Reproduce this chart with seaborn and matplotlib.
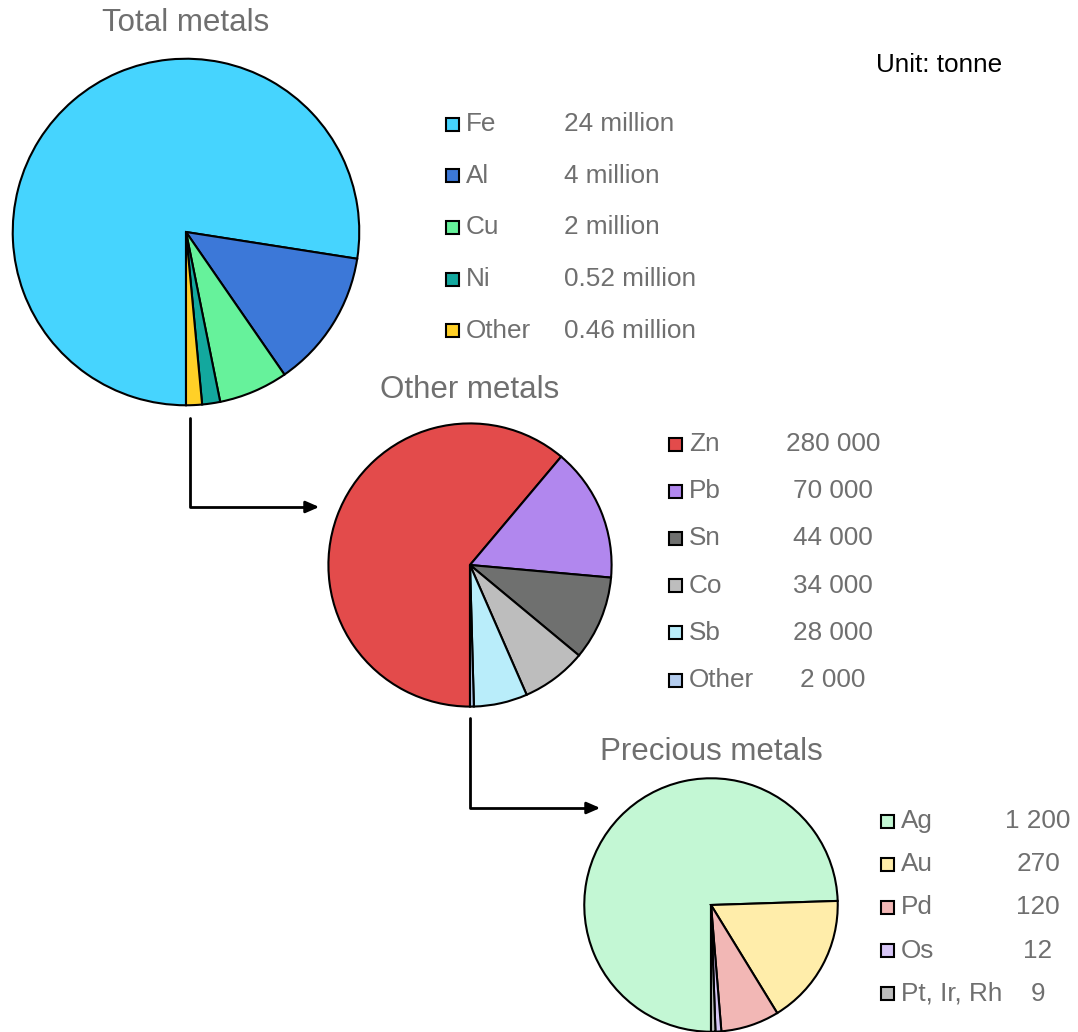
import matplotlib
matplotlib.use("Agg")
import matplotlib.pyplot as plt
import seaborn as sns
from matplotlib.patches import Rectangle

sns.set_style("white")
plt.rcParams["font.family"] = ["Liberation Sans", "DejaVu Sans"]

# data
total_labels = ["Fe", "Al", "Cu", "Ni", "Other"]
total_values = [24_000_000, 4_000_000, 2_000_000, 520_000, 460_000]
total_text = ["24 million", "4 million", "2 million", "0.52 million", "0.46 million"]
total_colors = ["#46D4FE", "#3C78D8", "#66F29B", "#13A89E", "#FFD027"]

other_labels = ["Zn", "Pb", "Sn", "Co", "Sb", "Other"]
other_values = [280_000, 70_000, 44_000, 34_000, 28_000, 2_000]
other_text = ["280 000", "70 000", "44 000", "34 000", "28 000", "2 000"]
other_colors = ["#E34B4B", "#B187EE", "#6F706F", "#BDBDBD", "#B9EDFA", "#B4CCEE"]

prec_labels = ["Ag", "Au", "Pd", "Os", "Pt, Ir, Rh"]
prec_values = [1200, 270, 120, 12, 9]
prec_text = ["1 200", "270", "120", "12", "9"]
prec_colors = ["#C3F7D4", "#FFEDAA", "#F2B7B5", "#D7C6F6", "#BDBDBD"]

W, H = 1078, 1032
fig = plt.figure(figsize=(W / 100, H / 100), dpi=100)

# overlay axes in pixel coordinates for arrows / text
ov = fig.add_axes([0, 0, 1, 1])
ov.set_xlim(0, W)
ov.set_ylim(H, 0)
ov.axis("off")

grey = "#6F6F6F"
fs = 18.8


def draw_pie(cx, cy, r, values, colors, title, ty):
    ax = fig.add_axes([(cx - r) / W, (H - cy - r) / H, 2 * r / W, 2 * r / H])
    ax.pie(values, colors=colors, startangle=-90, counterclock=False,
           wedgeprops=dict(edgecolor="black", linewidth=1.5))
    ax.set_xlim(-1.01, 1.01)
    ax.set_ylim(-1.01, 1.01)
    ax.set_aspect("equal")
    ax.axis("off")
    ov.text(cx, ty, title, ha="center", va="center", fontsize=22.5, color=grey)


def draw_legend(labels, texts, colors, x0, y0, step, vx, valign):
    for i, (lab, txt, col) in enumerate(zip(labels, texts, colors)):
        y = y0 + i * step
        ov.add_patch(Rectangle((x0, y - 6.5), 13, 13, facecolor=col,
                               edgecolor="black", linewidth=1.5))
        ov.text(x0 + 20, y, lab, ha="left", va="center", fontsize=fs, color=grey)
        ov.text(vx, y, txt, ha=valign, va="center", fontsize=fs, color=grey)


draw_pie(186, 232, 175, total_values, total_colors, "Total metals", 23)
draw_pie(470, 565, 143, other_values, other_colors, "Other metals", 390)
draw_pie(711, 905, 128, prec_values, prec_colors, "Precious metals", 752)

draw_legend(total_labels, total_text, total_colors, 446, 124, 51.7, 564, "left")
draw_legend(other_labels, other_text, other_colors, 669, 444, 47.2, 833, "center")
draw_legend(prec_labels, prec_text, prec_colors, 881, 821, 43.2, 1038, "center")

ov.text(939, 65, "Unit: tonne", ha="center", va="center", fontsize=fs, color="black")

# connector arrows
for (x1, y1, y2, x2) in [(190, 418, 507, 322), (470, 718, 808, 603)]:
    ov.plot([x1, x1, x2 - 14], [y1, y2, y2], color="black", linewidth=2)
    ov.annotate("", xy=(x2, y2), xytext=(x2 - 16, y2),
                arrowprops=dict(arrowstyle="-|>,head_length=0.8,head_width=0.35",
                                color="black", linewidth=2))

fig.savefig("out.png", dpi=100, facecolor="white")
